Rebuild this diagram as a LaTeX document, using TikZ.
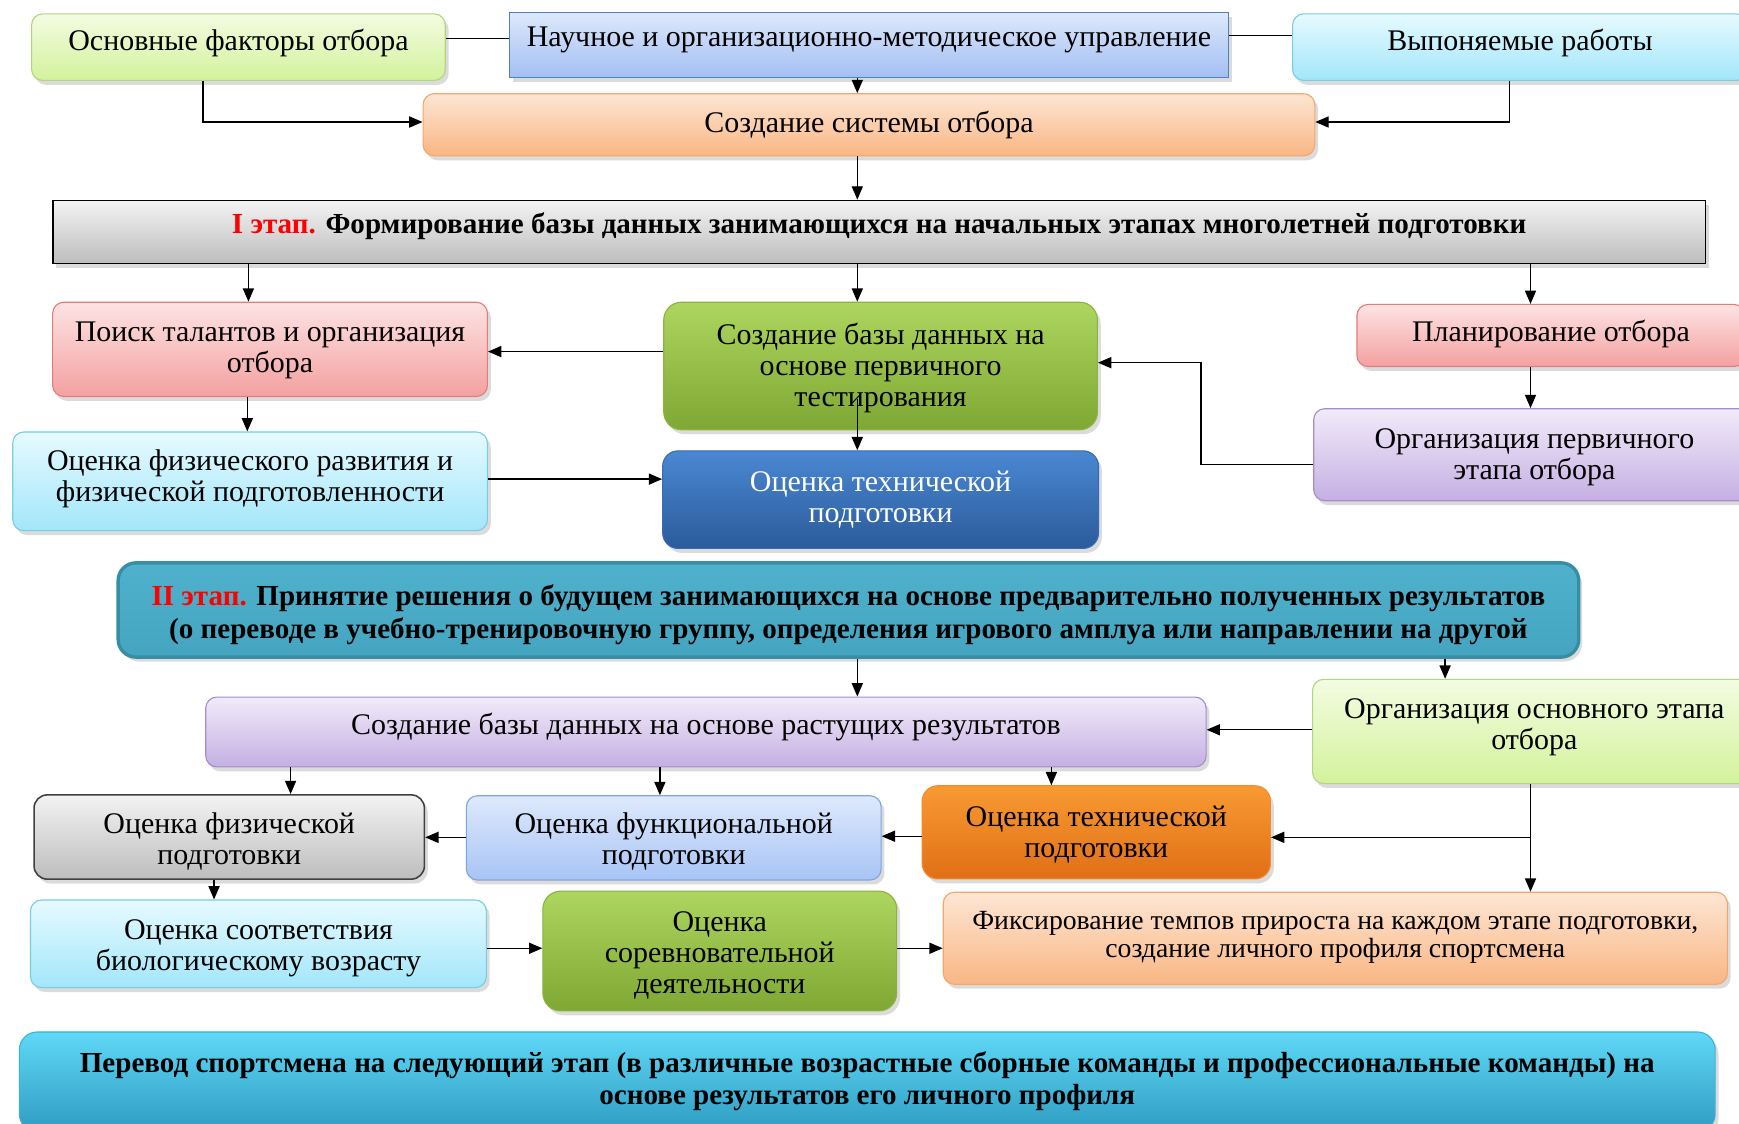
\documentclass[tikz,border=0pt]{standalone}
\usepackage{fontspec}
\setmainfont{Liberation Serif}
\usetikzlibrary{arrows.meta,shadows,calc}
\definecolor{ygT}{HTML}{F3FCE2}\definecolor{ygB}{HTML}{D3F29B}\definecolor{ygD}{HTML}{B2D67F}
\definecolor{nbT}{HTML}{DDE8FB}\definecolor{nbB}{HTML}{A3BFF3}\definecolor{nbD}{HTML}{4F81BD}
\definecolor{cyT}{HTML}{E6FAFF}\definecolor{cyB}{HTML}{A2E6FA}\definecolor{cyD}{HTML}{78CCE3}
\definecolor{pcT}{HTML}{FDE6D4}\definecolor{pcB}{HTML}{F9B683}\definecolor{pcD}{HTML}{F5A66A}
\definecolor{grT}{HTML}{F3F3F3}\definecolor{grB}{HTML}{BDBDBD}
\definecolor{pkT}{HTML}{FDE3E3}\definecolor{pkB}{HTML}{F4A0A0}\definecolor{pkD}{HTML}{E57C7C}
\definecolor{gnT}{HTML}{ADD660}\definecolor{gnB}{HTML}{7FA733}\definecolor{gnD}{HTML}{8BB43F}
\definecolor{dbT}{HTML}{4A88D2}\definecolor{dbB}{HTML}{2B5B9B}\definecolor{dbD}{HTML}{3A6AB0}
\definecolor{lvT}{HTML}{F1EBF9}\definecolor{lvB}{HTML}{C5AFE3}\definecolor{lvD}{HTML}{A58CCB}
\definecolor{tlT}{HTML}{4FB1CC}\definecolor{tlB}{HTML}{45A5C0}\definecolor{tlD}{HTML}{378DA4}
\definecolor{orT}{HTML}{F89A32}\definecolor{orB}{HTML}{E06F16}\definecolor{orD}{HTML}{F28A2E}
\definecolor{lbT}{HTML}{DEE9FC}\definecolor{lbB}{HTML}{A8C4F5}\definecolor{lbD}{HTML}{7EA6E0}
\definecolor{bcT}{HTML}{60D8F6}\definecolor{bcB}{HTML}{2E9CC2}\definecolor{bcD}{HTML}{3CB2D6}
\definecolor{etRed}{HTML}{FF0000}
\newcommand\flbox[8]{\node[#2, anchor=north west, minimum width={(#5-#3)*0.5pt}, minimum height={(#6-#4)*0.5pt}] (#1) at (#3,#4) {\raisebox{\dimexpr #7pt-1.5pt\relax}[\height][\depth]{\begin{tabular}{@{}c@{}}#8\end{tabular}}};}
\tikzset{
  base/.style={draw, line width=0.5pt, rounded corners=5pt, inner sep=0pt,
    font=\fontsize{13.5}{14}\selectfont,
    drop shadow={opacity=0.28, shadow xshift=1.5pt, shadow yshift=-2pt}},
  bfont/.style={font=\fontsize{13.1}{14.5}\selectfont\bfseries},
  yg/.style={base, top color=ygT, bottom color=ygB, draw=ygD},
  nb/.style={base, top color=nbT, bottom color=nbB, draw=nbD, rounded corners=0pt},
  cy/.style={base, top color=cyT, bottom color=cyB, draw=cyD},
  pc/.style={base, top color=pcT, bottom color=pcB, draw=pcD},
  gr/.style={base, top color=grT, bottom color=grB, draw=black, rounded corners=0pt, line width=0.7pt},
  pk/.style={base, top color=pkT, bottom color=pkB, draw=pkD},
  gn/.style={base, top color=gnT, bottom color=gnB, draw=gnD, rounded corners=8pt},
  db/.style={base, top color=dbT, bottom color=dbB, draw=dbD, text=white, rounded corners=7pt},
  lv/.style={base, top color=lvT, bottom color=lvB, draw=lvD},
  tl/.style={base, top color=tlT, bottom color=tlB, draw=tlD, line width=1.5pt, rounded corners=8pt},
  ogr/.style={base, top color=grT, bottom color=grB, draw=black!75, line width=0.7pt, rounded corners=6pt},
  orr/.style={base, top color=orT, bottom color=orB, draw=orD, rounded corners=7pt},
  lb/.style={base, top color=lbT, bottom color=lbB, draw=lbD},
  bc/.style={base, top color=bcT, bottom color=bcB, draw=bcD, rounded corners=8pt},
  arr/.style={-{Triangle[length=6pt,width=5pt]}, line width=0.6pt},
  ln/.style={line width=0.6pt}
}
\begin{document}
\begin{tikzpicture}[x=0.5pt,y=-0.5pt]
\useasboundingbox (0,0) rectangle (1568,1013);
\fill[white] (0,0) rectangle (1568,1013);
\clip (0,0) rectangle (1568,1013);
% top row
\flbox{osn}{yg}{28}{12}{401}{72}{3}{Основные факторы отбора}
\flbox{nauch}{nb}{459}{11}{1107}{69}{3.5}{Научное и организационно-методическое управление}
\flbox{vyp}{cy}{1165}{12}{1575}{72}{3}{Выпоняемые работы}
\flbox{soz}{pc}{381}{84}{1185}{140}{1}{Создание системы отбора}
% stage I
\flbox{et1}{gr,bfont}{47}{180}{1537}{237}{3.75}{{\color{etRed}I этап.} Формирование базы данных занимающихся на начальных этапах многолетней подготовки}
\flbox{poisk}{pk}{47}{272}{439}{357}{0.75}{Поиск талантов и организация\\отбора}
\flbox{bazy}{gn}{598}{272}{989}{387}{0}{Создание базы данных на\\основе первичного\\тестирования}
\flbox{plan}{pk}{1223}{274}{1573}{330}{1.5}{Планирование отбора}
\flbox{fizr}{cy}{11}{389}{439}{478}{2}{Оценка физического развития и\\физической подготовленности}
\flbox{tech}{db}{597}{406}{990}{494}{1}{Оценка технической\\подготовки}
\flbox{orgp}{lv}{1184}{368}{1582}{451}{0}{Организация первичного\\этапа отбора}
% stage II
\flbox{et2}{tl,bfont}{105}{506}{1422}{591}{-1}{{\color{etRed}II этап.} Принятие решения о будущем занимающихся на основе предварительно полученных результатов\\(о переводе в учебно-тренировочную группу, определения игрового амплуа или направлении на другой}
\flbox{rast}{lv}{185}{628}{1087}{691}{3}{Создание базы данных на основе растущих результатов}
\flbox{orgo}{yg}{1183}{612}{1583}{706}{3}{Организация основного этапа\\отбора}
\flbox{ofiz}{ogr}{30}{716}{382}{792}{-1}{Оценка физической\\подготовки}
\flbox{ofunk}{lb}{420}{717}{794}{793}{-0.75}{Оценка функциональной\\подготовки}
\flbox{otech}{orr}{831}{708}{1145}{792}{0}{Оценка технической\\подготовки}
\flbox{osootv}{cy}{27}{811}{438}{890}{-0.75}{Оценка соответствия\\биологическому возрасту}
\flbox{sorev}{gn}{489}{803}{808}{911}{-1}{Оценка\\соревновательной\\деятельности}
\flbox{fiks}{pc,font=\fontsize{12.5}{13}\selectfont}{850}{804}{1557}{887}{1.75}{Фиксирование темпов прироста на каждом этапе подготовки,\\создание личного профиля спортсмена}
\flbox{perev}{bc,bfont}{17}{930}{1546}{1020}{1.5}{Перевод спортсмена на следующий этап (в различные возрастные сборные команды и профессиональные команды) на\\основе результатов его личного профиля}
% connectors top
\draw[ln] (osn.east |- 0,35) -- (nauch.west |- 0,35);
\draw[ln] (nauch.east |- 0,32) -- (vyp.west |- 0,32);
\draw[arr] (nauch.south -| 773,0) -- (soz.north -| 773,0);
\draw[arr] (osn.south -| 183,0) |- (soz.west |- 0,110);
\draw[arr] (vyp.south -| 1361,0) |- (soz.east |- 0,110);
\draw[arr] (soz.south -| 773,0) -- (et1.north -| 773,0);
% stage I connectors
\draw[arr] (et1.south -| 224,0) -- (poisk.north -| 224,0);
\draw[arr] (et1.south -| 773,0) -- (bazy.north -| 773,0);
\draw[arr] (et1.south -| 1380,0) -- (plan.north -| 1380,0);
\draw[arr] (bazy.west |- 0,317) -- (poisk.east |- 0,317);
\draw[arr] (poisk.south -| 223,0) -- (fizr.north -| 223,0);
\coordinate (bzin) at ($(bazy.south -| 773,0)+(0,-28)$);
\draw[arr] (bzin) -- (tech.north -| 773,0);
\draw[arr] (fizr.east |- 0,432) -- (tech.west |- 0,432);
\draw[arr] (plan.south -| 1380,0) -- (orgp.north -| 1380,0);
\draw[arr] (orgp.west |- 0,419) -| (1083,327) -- (bazy.east |- 0,327);
% stage II connectors
\draw[arr] (et2.south -| 773,0) -- (rast.north -| 773,0);
\draw[arr] (et2.south -| 1303,0) -- (orgo.north -| 1303,0);
\draw[arr] (orgo.west |- 0,658) -- (rast.east |- 0,658);
\draw[arr] (rast.south -| 262,0) -- (ofiz.north -| 262,0);
\draw[arr] (rast.south -| 595,0) -- (ofunk.north -| 595,0);
\draw[arr] (rast.south -| 948,0) -- (otech.north -| 948,0);
\draw[arr] (orgo.south -| 1380,0) -- (fiks.north -| 1380,0);
\coordinate (br) at (1380,755);
\draw[arr] (br) -- (otech.east |- 0,755);
\draw[arr] (otech.west |- 0,754) -- (ofunk.east |- 0,754);
\draw[arr] (ofunk.west |- 0,755) -- (ofiz.east |- 0,755);
\draw[arr] (ofiz.south -| 193,0) -- (osootv.north -| 193,0);
\draw[arr] (osootv.east |- 0,855) -- (sorev.west |- 0,855);
\draw[arr] (sorev.east |- 0,855) -- (fiks.west |- 0,855);
\end{tikzpicture}
\end{document}
